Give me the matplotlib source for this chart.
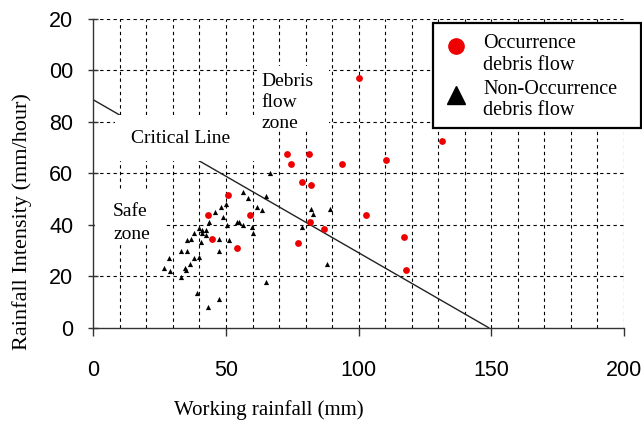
import matplotlib
matplotlib.use("Agg")
import matplotlib.pyplot as plt
from matplotlib.patches import Rectangle
from matplotlib.lines import Line2D

# ---- data ----
occ_x = [100, 131.5, 73.1, 81.3, 74.6, 93.8, 110.2, 78.5, 82.1, 102.6,
         81.6, 86.9, 77.0, 117.0, 117.9, 50.9, 43.3, 59.2, 44.8, 54.0]
occ_y = [96.8, 72.6, 67.6, 67.6, 63.4, 63.4, 65.3, 56.4, 55.5, 43.6,
         41.2, 38.4, 32.7, 35.3, 22.3, 51.5, 43.6, 43.6, 34.4, 31.1]

non_x = [26.6, 28.6, 29.0, 33.0, 33.0, 35.4, 34.6, 34.9, 36.4, 37.8,
         39.7, 35.4, 36.9, 38.1, 39.7, 40.8, 41.1, 42.5, 42.5, 40.5,
         43.6, 45.9, 48.2, 50.1, 48.8, 50.4, 47.2, 51.1, 47.2, 54.0,
         54.9, 56.4, 59.9, 60.3, 56.3, 58.2, 61.8, 63.4, 65.0, 66.6,
         65.2, 39.0, 47.2, 43.2, 81.9, 82.9, 89.2, 78.8, 88.2]
non_y = [23.0, 27.0, 22.1, 19.7, 29.8, 29.8, 23.2, 22.5, 24.7, 27.0,
         27.6, 34.0, 34.6, 36.8, 38.9, 36.7, 38.0, 38.0, 36.1, 33.1,
         41.0, 45.0, 47.0, 48.0, 43.0, 39.8, 34.6, 34.0, 29.8, 41.1,
         41.0, 39.8, 39.3, 36.7, 52.7, 50.2, 46.7, 45.8, 51.0, 59.9,
         17.8, 13.6, 11.0, 7.9, 46.1, 44.2, 46.1, 39.3, 24.8]

critical_x = [0, 149]
critical_y = [88.5, 0]

x_ticks = [0, 50, 100, 150, 200]
x_tick_labels = ["0", "50", "100", "150", "200"]
y_ticks = [0, 20, 40, 60, 80, 100, 120]
y_tick_labels = ["0", "20", "40", "60", "80", "00", "20"]

legend_labels = ["Occurrence\ndebris flow", "Non-Occurrence\ndebris flow"]

serif = "Liberation Serif"
sans = "Liberation Sans"

fig = plt.figure(figsize=(6.42, 4.28), dpi=100)
W, H = 642, 428
x0, x1 = 93.3, 624.0
ytop, ybot = 18.7, 327.7
ax = fig.add_axes([x0 / W, 1 - ybot / H, (x1 - x0) / W, (ybot - ytop) / H])
ax.set_xlim(0, 200)
ax.set_ylim(0, 120)

# grid
for gx in range(10, 201, 10):
    ax.axvline(gx, color="black", lw=0.8, ls=(0, (3, 3)), zorder=1)
for gy in range(20, 121, 20):
    ax.axhline(gy, color="black", lw=0.8, ls=(0, (3, 3)), zorder=1)

# critical line
ax.plot(critical_x, critical_y, color="#222222", lw=1.0, zorder=2)

# white text boxes
ax.add_patch(Rectangle((8, 64.6), 54, 18.1, facecolor="white", edgecolor="none", zorder=2.5))
ax.add_patch(Rectangle((62, 77), 27, 24.5, facecolor="white", edgecolor="none", zorder=2.5))
ax.add_patch(Rectangle((0.5, 32), 27, 21, facecolor="white", edgecolor="none", zorder=2.5))

ax.text(14.3, 73.3, "Critical Line", family=serif, fontsize=14, va="center", ha="left", zorder=3)
ax.text(63.4, 87.5, "Debris\nflow\nzone", family=serif, fontsize=14, va="center", ha="left",
        linespacing=1.3, zorder=3)
ax.text(7.5, 40.5, "Safe\nzone", family=serif, fontsize=14, va="center", ha="left",
        linespacing=1.45, zorder=3)

# points
ax.scatter(non_x, non_y, marker="^", s=14, color="black", zorder=4, linewidths=0)
ax.scatter(occ_x, occ_y, marker="o", s=24, color="#ee0000", zorder=4, linewidths=0)

# spines
for s in ["top", "right"]:
    ax.spines[s].set_visible(False)
for s in ["left", "bottom"]:
    ax.spines[s].set_color("#333333")
    ax.spines[s].set_linewidth(1.0)

ax.set_xticks(x_ticks)
ax.set_xticklabels(x_tick_labels, family=sans, fontsize=15.5)
ax.set_yticks(y_ticks)
ax.set_yticklabels(y_tick_labels, family=sans, fontsize=15.5)
ax.tick_params(axis="x", direction="out", length=6, width=1, color="#333333", pad=17)
ax.tick_params(axis="y", direction="inout", length=7, width=1, color="#333333", pad=11)

ax.set_xlabel("Working rainfall (mm)", family=serif, fontsize=15, va="center")
ax.xaxis.set_label_coords(0.331, -0.266)
ax.set_ylabel("Rainfall Intensity (mm/hour)", family=serif, fontsize=16, va="center")
ax.yaxis.set_label_coords(-0.135, 0.345)

# legend (drawn as a framed box in figure pixels)
def fx(px):
    return px / W

def fy(py):
    return 1 - py / H

fig.add_artist(Rectangle((fx(433), fy(127.7)), fx(640.5) - fx(433), fy(22.7) - fy(127.7),
                         transform=fig.transFigure, facecolor="white", edgecolor="black",
                         linewidth=1.6, zorder=5))
fig.add_artist(Line2D([fx(456)], [fy(46)], transform=fig.transFigure, marker="o", ls="none",
                      color="#ee0000", markersize=11, zorder=6))
fig.add_artist(Line2D([fx(456)], [fy(95)], transform=fig.transFigure, marker="^", ls="none",
                      color="black", markersize=13, zorder=6))
fig.text(fx(483), fy(54.5), legend_labels[0], family=serif, fontsize=14.5, va="center",
         ha="left", linespacing=1.2, zorder=6)
fig.text(fx(483), fy(100), legend_labels[1], family=serif, fontsize=14.5, va="center",
         ha="left", linespacing=1.2, zorder=6)

fig.savefig("out.png", dpi=100)
